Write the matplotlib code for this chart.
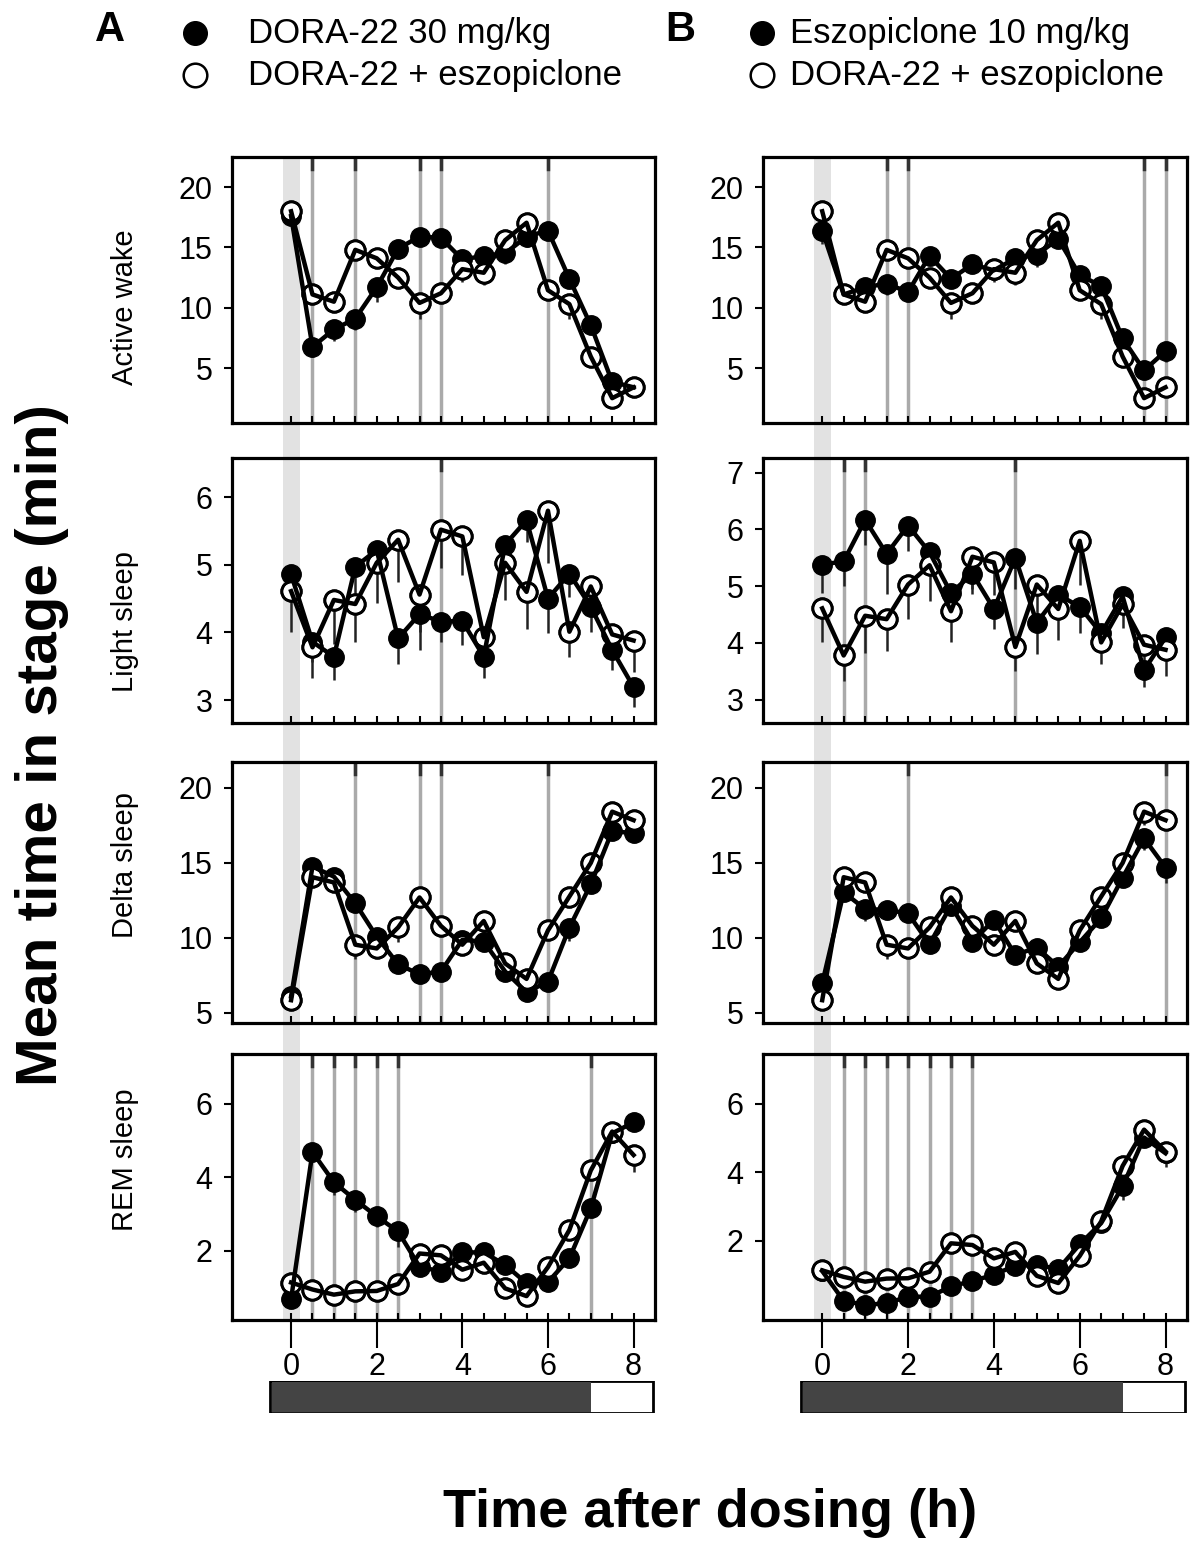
import numpy as np
import matplotlib.pyplot as plt
from matplotlib.patches import Rectangle
from matplotlib.lines import Line2D

plt.rcParams['font.family'] = ['Liberation Sans Narrow', 'Liberation Sans', 'DejaVu Sans']

# czas po podaniu [h]
hours = np.arange(0, 8.5, 0.5)

# Active wake [min]
aw_dora = [17.6, 6.75, 8.2, 9.1, 11.7, 14.9, 15.9, 15.8, 14.0, 14.3, 14.5, 15.9, 16.4, 12.4, 8.55, 3.85, 3.4]
aw_eszo = [16.4, 11.1, 11.7, 12.0, 11.3, 14.3, 12.4, 13.6, 13.1, 14.1, 14.4, 15.7, 12.7, 11.8, 7.45, 4.8, 6.4]
aw_combo = [18.0, 11.1, 10.5, 14.8, 14.1, 12.5, 10.4, 11.2, 13.2, 12.9, 15.6, 17.05, 11.45, 10.3, 5.95, 2.5, 3.4]
aw_dora_se = [0.6, 0.85, 1.0, 0.95, 1.25, 0.6, 0.6, 0.6, 0.6, 0.7, 0.85, 0.9, 0.6, 0.7, 0.7, 0.6, 0.6]
aw_eszo_se = [1.1, 0.6, 0.6, 0.97, 0.6, 0.6, 0.6, 0.7, 0.6, 0.6, 1.05, 0.6, 0.6, 0.6, 0.7, 0.7, 0.9]
aw_combo_se = [0.6, 0.6, 0.7, 0.6, 0.6, 0.6, 1.3, 0.6, 1.05, 1.0, 0.6, 0.6, 0.7, 1.25, 0.6, 0.6, 0.6]

# Light sleep [min]
ls_dora = [4.86, 3.86, 3.64, 4.97, 5.22, 3.91, 4.27, 4.16, 4.17, 3.64, 5.30, 5.66, 4.50, 4.87, 4.38, 3.74, 3.19]
ls_eszo = [5.38, 5.44, 6.17, 5.57, 6.07, 5.6, 4.88, 5.22, 4.6, 5.5, 4.36, 4.85, 4.64, 4.17, 4.82, 3.52, 4.1]
ls_combo = [4.61, 3.78, 4.48, 4.42, 5.03, 5.37, 4.56, 5.52, 5.42, 3.93, 5.03, 4.6, 5.8, 4.01, 4.68, 3.97, 3.88]
ls_dora_se = [0.3, 0.3, 0.34, 0.4, 0.3, 0.37, 0.53, 0.3, 0.36, 0.32, 0.3, 0.32, 0.51, 0.34, 0.37, 0.3, 0.29]
ls_eszo_se = [0.5, 0.43, 0.44, 0.7, 0.45, 0.4, 0.35, 0.35, 0.36, 0.55, 0.55, 0.35, 0.46, 0.3, 0.35, 0.29, 0.3]
ls_combo_se = [0.6, 0.45, 0.65, 0.56, 0.6, 0.63, 0.55, 0.57, 0.57, 0.42, 0.55, 0.55, 0.78, 0.38, 0.42, 0.32, 0.46]

# Delta sleep [min]
ds_dora = [6.1, 14.76, 14.09, 12.31, 10.09, 8.24, 7.58, 7.76, 9.87, 9.76, 7.76, 6.38, 7.09, 10.69, 13.58, 17.13, 16.98]
ds_eszo = [6.98, 13.04, 11.93, 11.87, 11.64, 9.58, 12.16, 9.76, 11.2, 8.87, 9.36, 8.09, 9.71, 11.31, 14.02, 16.64, 14.69]
ds_combo = [5.85, 14.05, 13.7, 9.55, 9.3, 10.7, 12.7, 10.8, 9.55, 11.13, 8.3, 7.27, 10.5, 12.76, 15.0, 18.42, 17.85]
ds_dora_se = [0.6, 0.7, 0.6, 0.6, 0.6, 0.6, 0.6, 0.6, 0.6, 0.6, 0.6, 0.6, 0.6, 0.9, 0.6, 0.6, 0.6]
ds_eszo_se = [0.8, 0.6, 0.8, 0.6, 0.6, 0.6, 0.7, 0.6, 0.6, 0.6, 0.6, 0.6, 0.6, 0.6, 0.6, 0.8, 1.05]
ds_combo_se = [0.6, 0.6, 0.6, 0.95, 0.6, 0.95, 0.6, 0.6, 0.6, 0.6, 0.6, 0.6, 0.6, 0.6, 0.6, 0.9, 0.6]

# REM sleep [min]
rem_dora = [0.69, 4.69, 3.87, 3.39, 2.94, 2.53, 1.57, 1.44, 1.96, 1.96, 1.62, 1.12, 1.15, 1.8, 3.16, 5.2, 5.5]
rem_eszo = [1.12, 0.25, 0.13, 0.18, 0.37, 0.37, 0.67, 0.83, 1.01, 1.28, 1.3, 1.18, 1.9, 2.52, 3.59, 5.02, 4.56]
rem_combo = [1.14, 0.95, 0.81, 0.9, 0.91, 1.1, 1.93, 1.88, 1.49, 1.68, 0.98, 0.77, 1.56, 2.57, 4.19, 5.25, 4.61]
rem_dora_se = [0.2, 0.2, 0.34, 0.32, 0.3, 0.43, 0.2, 0.2, 0.2, 0.2, 0.2, 0.2, 0.2, 0.2, 0.2, 0.2, 0.2]
rem_eszo_se = [0.2, 0.2, 0.2, 0.2, 0.2, 0.2, 0.2, 0.2, 0.2, 0.2, 0.2, 0.2, 0.2, 0.2, 0.4, 0.2, 0.2]
rem_combo_se = [0.2, 0.2, 0.2, 0.2, 0.2, 0.2, 0.2, 0.2, 0.2, 0.2, 0.2, 0.2, 0.2, 0.2, 0.2, 0.3, 0.45]

# punkty czasowe z istotna roznica (szare linie)
sig_a = [[0.5, 1.5, 3.0, 3.5, 6.0], [3.5], [1.5, 3.0, 3.5, 6.0], [0.5, 1.0, 1.5, 2.0, 2.5, 7.0]]
sig_b = [[1.5, 2.0, 7.5, 8.0], [0.5, 1.0, 4.5], [2.0, 8.0], [0.5, 1.0, 1.5, 2.0, 2.5, 3.0, 3.5]]

stages = ['Active wake', 'Light sleep', 'Delta sleep', 'REM sleep']
ylims_a = [(0.44, 22.5), (2.66, 6.58), (4.33, 21.73), (0.12, 7.36)]
ylims_b = [(0.44, 22.5), (2.59, 7.26), (4.33, 21.73), (-0.31, 7.46)]
yticks_a = [[5, 10, 15, 20], [3, 4, 5, 6], [5, 10, 15, 20], [2, 4, 6]]
yticks_b = [[5, 10, 15, 20], [3, 4, 5, 6, 7], [5, 10, 15, 20], [2, 4, 6]]

dark_period = 7.0   # koniec fazy ciemnej [h]

W, H = 1200, 1544
fig = plt.figure(figsize=(W / 100, H / 100), dpi=100)


def px_axes(l, t, r, b):
    return fig.add_axes([l / W, 1 - b / H, (r - l) / W, (b - t) / H])


rows = [(157, 423), (458, 723), (762, 1023), (1054, 1320)]
cols = [(232, 655), (763, 1187)]
xlim = (-1.38, 8.5)


def draw_panel(ax, filled, se_f, opn, se_o, sig, ylim, yticks, bottom):
    ax.set_facecolor('none')
    for s in sig:
        ax.axvline(s, color='#aaaaaa', lw=2.5, zorder=1)
        ax.plot([s, s], [0.955, 1], color='#333333', lw=2.5,
                transform=ax.get_xaxis_transform(), zorder=1.5)
    z = np.zeros(len(hours))
    ax.errorbar(hours, filled, yerr=[se_f, z], fmt='none', ecolor='#222222',
                elinewidth=1.8, capsize=0, zorder=2)
    ax.errorbar(hours, opn, yerr=[se_o, z], fmt='none', ecolor='#222222',
                elinewidth=1.8, capsize=0, zorder=2)
    ax.plot(hours, filled, 'o', ms=14, mfc='black', mec='black', zorder=3)
    ax.plot(hours, opn, 'o', ms=14, mfc='white', mec='black', mew=2, zorder=3.1)
    ax.plot(hours, filled, '-', color='black', lw=3.2, zorder=4)
    ax.plot(hours, opn, '-', color='black', lw=3.2, zorder=4)
    ax.plot(hours, opn, 'o', ms=14, mfc='none', mec='black', mew=2, zorder=5)

    ax.set_xlim(*xlim)
    ax.set_ylim(*ylim)
    ax.set_yticks(yticks)
    ax.set_xticks(hours, minor=True)
    ax.tick_params(axis='x', which='minor', direction='in', length=5, width=1.5)
    ax.tick_params(axis='y', which='major', direction='out', length=6, width=1.5,
                   labelsize=22, pad=8)
    if bottom:
        ax.xaxis.remove_overlapping_locs = False
        ax.set_xticks([0, 2, 4, 6, 8])
        ax.tick_params(axis='x', which='major', direction='out', length=20,
                       width=1.5, labelsize=22, pad=3)
    else:
        ax.set_xticks([])
    for sp in ax.spines.values():
        sp.set_linewidth(2.3)


panels = [
    (aw_dora, aw_dora_se, aw_eszo, aw_eszo_se, aw_combo, aw_combo_se),
    (ls_dora, ls_dora_se, ls_eszo, ls_eszo_se, ls_combo, ls_combo_se),
    (ds_dora, ds_dora_se, ds_eszo, ds_eszo_se, ds_combo, ds_combo_se),
    (rem_dora, rem_dora_se, rem_eszo, rem_eszo_se, rem_combo, rem_combo_se),
]

axes_a, axes_b = [], []
for i, (t, b) in enumerate(rows):
    fa, sfa, fb, sfb, op, sop = panels[i]
    ax = px_axes(cols[0][0], t, cols[0][1], b)
    draw_panel(ax, fa, sfa, op, sop, sig_a[i], ylims_a[i], yticks_a[i], i == 3)
    axes_a.append(ax)
    ax = px_axes(cols[1][0], t, cols[1][1], b)
    draw_panel(ax, fb, sfb, op, sop, sig_b[i], ylims_b[i], yticks_b[i], i == 3)
    axes_b.append(ax)

# szary pas w chwili podania, przez cala kolumne
inv = fig.transFigure.inverted()
for ax in (axes_a[0], axes_b[0]):
    x0 = inv.transform(ax.transData.transform((-0.2, 0)))[0]
    x1 = inv.transform(ax.transData.transform((0.2, 0)))[0]
    y0 = 1 - rows[-1][1] / H
    y1 = 1 - rows[0][0] / H
    fig.add_artist(Rectangle((x0, y0), x1 - x0, y1 - y0, transform=fig.transFigure,
                             facecolor='#e2e2e2', edgecolor='none', zorder=-1))

# paski swiatlo/ciemnosc
for (l, r) in cols:
    bax = px_axes(l, 1381, r, 1413)
    bax.set_xlim(*xlim)
    bax.set_ylim(0, 1)
    bax.axis('off')
    bax.add_patch(Rectangle((-0.5, 0), 8.95, 1, facecolor='white', edgecolor='black', lw=2))
    bax.add_patch(Rectangle((-0.44, 0.02), dark_period + 0.44, 0.96, facecolor='#444444',
                            edgecolor='none'))

# etykiety wierszy
row_label_y = [307, 622, 865, 1160]
for name, y in zip(stages, row_label_y):
    fig.text(125 / W, 1 - y / H, name, rotation=90, ha='center', va='center', fontsize=21)

fig.text(42 / W, 1 - 745 / H, 'Mean time in stage (min)', rotation=90, ha='center',
         va='center', fontsize=42, fontweight='bold')
fig.text(710 / W, 1 - 1513 / H, 'Time after dosing (h)', ha='center', va='center',
         fontsize=39, fontweight='bold')

# legenda
legend = [
    ('A', 110, 195, 248, 'DORA-22 30 mg/kg'),
    ('B', 680, 762, 790, 'Eszopiclone 10 mg/kg'),
]
for letter, xl, xm, xt, label in legend:
    fig.text(xl / W, 1 - 30 / H, letter, ha='center', va='center', fontsize=30,
             fontweight='bold')
    fig.add_artist(Line2D([xm / W], [1 - 33 / H], marker='o', ms=17, mfc='black',
                          mec='black', transform=fig.transFigure))
    fig.add_artist(Line2D([xm / W], [1 - 75 / H], marker='o', ms=17, mfc='white',
                          mec='black', mew=1.8, transform=fig.transFigure))
    fig.text(xt / W, 1 - 33 / H, label, ha='left', va='center', fontsize=25)
    fig.text(xt / W, 1 - 75 / H, 'DORA-22 + eszopiclone', ha='left', va='center',
             fontsize=25)

fig.savefig('out.png', dpi=100)
